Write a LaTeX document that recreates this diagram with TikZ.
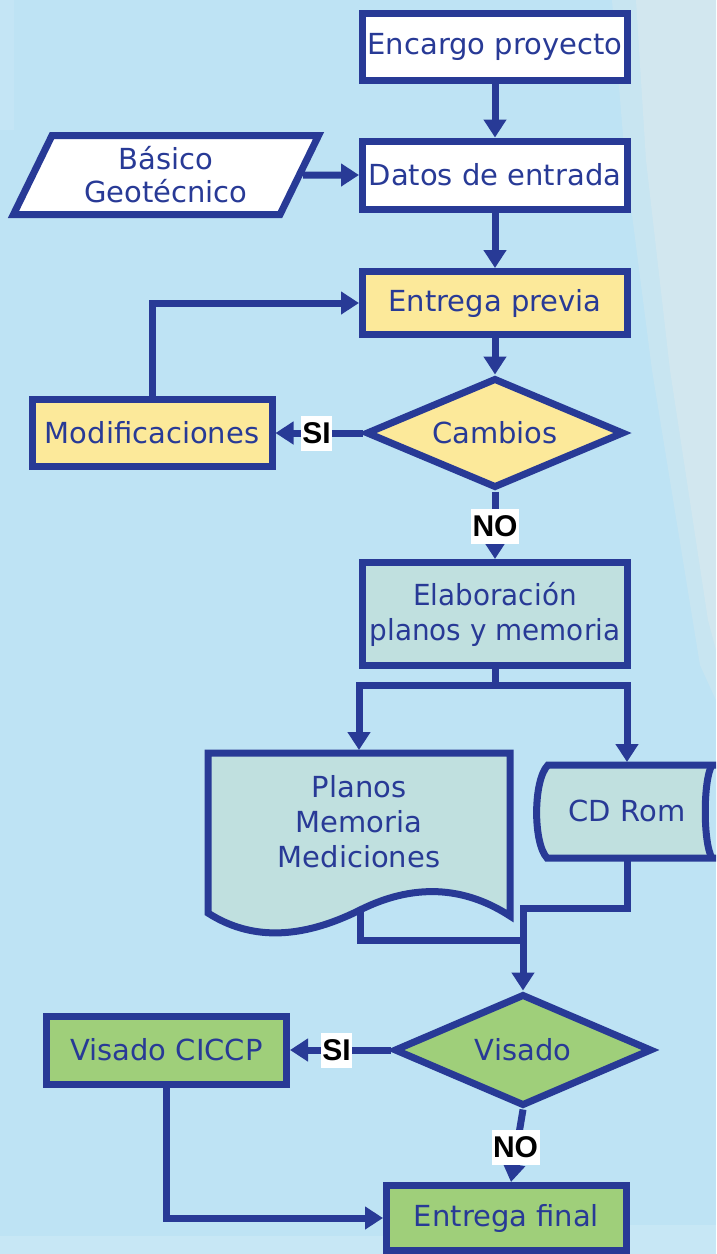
\documentclass[tikz,border=0pt]{standalone}
\usepackage{fontspec}
\setmainfont{DejaVu Sans}
\newfontfamily\narrowfont{DejaVu Sans}[FakeStretch=0.96]
\newfontfamily\labfont{Liberation Sans}
\usetikzlibrary{arrows.meta,shapes.geometric}
\definecolor{bg}{HTML}{BEE3F4}
\definecolor{bglight}{HTML}{DCE9EE}
\definecolor{navy}{HTML}{283A96}
\definecolor{fyel}{HTML}{FCE99A}
\definecolor{fteal}{HTML}{C0E0DF}
\definecolor{fgreen}{HTML}{9FCF7A}
\begin{document}
\begin{tikzpicture}[x=1pt,y=-1pt,
  box/.style={draw=navy, line width=7pt, text=navy, inner sep=0pt, font=\fontsize{29}{33}\selectfont, align=center},
  proc/.style={box, rectangle, minimum width=265pt},
  dec/.style={box, diamond, shape aspect=2.4},
  txt/.style={draw=none, text=navy, inner sep=0pt, outer sep=0pt, font=\fontsize{29}{35}\selectfont, align=center},
  shapeline/.style={draw=navy, line width=7pt},
  lbl/.style={fill=white, text=black, font=\labfont\bfseries\fontsize{30}{30}\selectfont, inner xsep=1.5pt, inner ysep=0pt, minimum height=35pt},
  arr/.style={draw=navy, line width=7pt, -{Triangle[length=18pt,width=22pt]}},
  ln/.style={draw=navy, line width=7pt},
]
\useasboundingbox (0,0) rectangle (716,1254);
\clip (0,0) rectangle (716,1254);
% background
\fill[bg] (0,0) rectangle (716,1254);
\fill[bglight, opacity=0.35] (612,0) -- (716,0) -- (716,700) -- (700,665) -- (652,370) -- (625,160) -- cycle;
\fill[bglight, opacity=0.5] (636,0) -- (716,0) -- (716,650) -- (708,620) -- (670,370) -- (646,160) -- cycle;
\fill[white, opacity=0.1] (0,0) rectangle (14,130);
\fill[white, opacity=0.15] (0,1236) rectangle (400,1254);
\fill[white, opacity=0.15] (560,1225) rectangle (716,1254);

% nodes
\node[proc, fill=white, minimum height=67pt] (enc) at (495,47) {Encargo proyecto};
\node[proc, fill=white, minimum height=68pt] (datos) at (495,175) {Datos de entrada};
\node[box, trapezium, trapezium left angle=64, trapezium right angle=116, trapezium stretches=true, fill=white, minimum width=306pt, minimum height=79pt] (bas) at (166,175) {Básico\\Geotécnico};
\node[proc, fill=fyel, minimum height=63pt] (prev) at (495,303) {Entrega previa};
\node[dec, fill=fyel, minimum width=258pt, minimum height=110pt] (camb) at (495,433) {Cambios};
\node[box, rectangle, fill=fyel, minimum width=240pt, minimum height=67pt] (modif) at (152,433) {Modificaciones};
\node[proc, fill=fteal, minimum height=103pt, font=\narrowfont\fontsize{29}{35}\selectfont] (elab) at (495,614) {Elaboración\\planos y memoria};

% connectors (upper part)
\draw[arr] (enc) -- (datos);
\draw[arr] (bas.east) -- (datos.west);
\draw[arr] (datos) -- (prev);
\draw[arr] (prev) -- (camb);
\draw[arr] (camb.west) -- (modif.east);
\draw[arr] (modif.north) |- (prev.west);
\draw[arr] (camb.south) -- (elab.north);
\node[lbl] (si1) at (316.5,433) {SI};
\node[lbl] (no1) at (495,526) {NO};

% document and CD shapes
\node[txt, minimum width=302pt, minimum height=144pt] (planos) at (359,822) {};
\node[txt, minimum width=150pt, minimum height=98pt] (cd) at (627,811) {};
\coordinate (split) at (495,685);
\coordinate (planosout) at (360,910);
\coordinate (cdout) at (627,858);
\coordinate (merge1) at (523,908);
\coordinate (merge2) at (523,940);

\node[dec, fill=fgreen, minimum width=258pt, minimum height=112pt] (vis) at (523,1050) {Visado};
\node[box, rectangle, fill=fgreen, minimum width=240pt, minimum height=68pt] (vcic) at (166.5,1050) {Visado CICCP};
\node[box, rectangle, fill=fgreen, minimum width=240pt, minimum height=65pt] (fin) at (506.5,1218) {Entrega final};

\draw[arr] (elab.south) -- (split) -| (planos.north);
\draw[arr] (split) -| (cd.north);
\draw[ln] (planosout) |- (merge2);
\draw[arr] (cdout) |- (merge1) -- (vis.north);

\filldraw[fill=fteal, shapeline] (208,753) -- (510,753) -- (510,916)
  .. controls (470,890) and (420,880) .. (360,910)
  .. controls (300,940) and (250,940) .. (208,913) -- cycle;
\filldraw[fill=fteal, shapeline] (548,765) -- (720,765) -- (720,858) -- (547,858)
  .. controls (533,843) and (533,780) .. (548,765) -- cycle;
\fill[bg] (709,769) .. controls (701,782) and (701,841) .. (709,854) -- (720,854) -- (720,769) -- cycle;
\draw[shapeline] (712,765) .. controls (703,780) and (703,843) .. (712,858);
\node[txt] (planostext) at (planos) {Planos\\Memoria\\Mediciones};
\node[txt] (cdtext) at (cd) {CD Rom};

\draw[arr] (vis.west) -- (vcic.east);
\draw[arr] (vis.south) -- ([xshift=4.5pt]fin.north);
\draw[arr] (vcic.south) |- (fin.west);
\node[lbl] (si2) at (336.5,1050) {SI};
\node[lbl] (no2) at (515.5,1147) {NO};
\end{tikzpicture}
\end{document}
